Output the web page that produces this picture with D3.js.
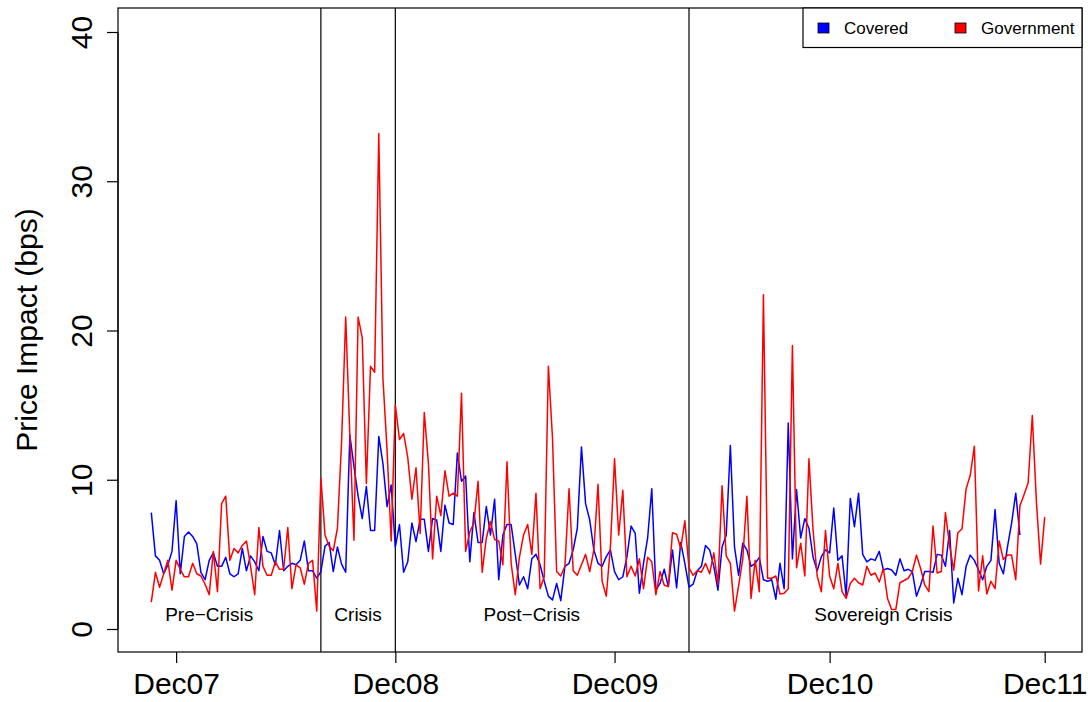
<!DOCTYPE html>
<html>
<head>
<meta charset="utf-8">
<script src="https://cdn.jsdelivr.net/npm/d3@7"></script>
<style>
  body { margin: 0; background: #fff; }
  svg { display: block; font-family: "Liberation Sans", Arial, sans-serif; }
</style>
</head>
<body>
<div id="chart"></div>
<script>
// weekly price impact (bps), week index 0..216
var covered = [
  7.8, 4.9, 4.6, 3.7, 4.3, 5.2, 8.6, 3.7, 6.2, 6.5,
  6.2, 5.7, 3.8, 3.3, 4.6, 5.1, 4.2, 4.2, 4.8, 3.7,
  3.5, 3.7, 5.4, 3.9, 4.9, 4.5, 3.9, 6.2, 5.2, 5.1,
  4.3, 6.6, 3.9, 4.2, 4.4, 4.3, 4.6, 5.9, 3.9, 3.9,
  3.4, 3.85, 5.55, 5.8, 3.85, 5.5, 4.35, 3.8, 13.0, 10.9,
  8.9, 7.4, 9.55, 6.6, 6.6, 12.9, 11.1, 8.2, 9.65, 5.5,
  7.0, 3.8, 4.5, 7.1, 5.85, 7.35, 7.35, 5.2, 7.4, 7.3,
  5.2, 8.3, 7.1, 7.0, 11.8, 9.9, 10.25, 4.5, 7.8, 5.8,
  5.8, 8.2, 6.3, 8.7, 3.3, 6.3, 7.0, 7.0, 5.0, 2.95,
  3.5, 2.7, 4.7, 5.0, 4.3, 3.2, 2.2, 1.95, 3.05, 1.9,
  4.2, 4.4, 5.3, 6.75, 12.2, 8.4, 7.3, 5.3, 4.4, 4.2,
  4.85, 5.3, 3.85, 3.3, 3.5, 4.85, 6.9, 6.4, 2.4, 4.4,
  6.1, 9.4, 2.6, 3.05, 4.0, 2.85, 5.3, 2.75, 5.8, 4.4,
  2.8, 3.0, 3.9, 4.2, 5.6, 5.3, 4.2, 2.6, 5.5, 6.3,
  12.3, 5.5, 3.6, 5.75, 5.3, 4.2, 4.4, 4.8, 3.3, 3.2,
  3.3, 2.0, 4.4, 2.7, 13.8, 4.7, 9.35, 6.1, 7.4, 6.75,
  4.8, 3.9, 4.85, 5.3, 5.1, 8.1, 4.6, 4.9, 2.2, 8.75,
  6.85, 9.1, 5.0, 4.5, 4.7, 4.6, 5.2, 3.95, 4.05, 3.95,
  3.6, 4.7, 3.9, 4.0, 3.85, 2.2, 2.95, 3.85, 3.85, 3.8,
  5.0, 4.95, 4.2, 6.6, 1.75, 3.4, 2.3, 4.2, 4.95, 4.6,
  3.95, 3.3, 4.2, 4.6, 8.0, 4.4, 3.7, 5.5, 7.1, 9.1, 6.3,
  null, null, null, null, null, null
];
var government = [
  1.8, 3.8, 2.8, 3.7, 4.6, 2.6, 4.6, 4.0, 3.5, 3.5,
  4.4, 3.7, 3.55, 3.0, 2.3, 5.2, 2.5, 8.4, 8.9, 4.6,
  5.4, 5.1, 5.6, 5.9, 4.2, 2.3, 6.8, 4.2, 3.6, 3.6,
  4.5, 4.0, 4.0, 6.8, 2.7, 4.3, 4.1, 3.0, 4.4, 4.6,
  1.2, 10.1, 6.3, 5.55, 5.25, 6.75, 12.5, 20.9, 13.0, 5.95,
  20.9, 19.5, 9.75, 17.6, 17.2, 33.2, 16.8, 12.0, 5.9, 15.0,
  12.7, 13.1, 11.5, 8.7, 10.8, 6.4, 14.5, 11.1, 4.7, 8.9,
  7.6, 10.6, 8.9, 9.1, 8.9, 15.8, 5.2, 6.5, 7.1, 9.9,
  3.8, 6.1, 7.2, 6.0, 5.9, 4.3, 11.2, 4.4, 2.3, 4.8,
  6.3, 7.0, 5.0, 9.1, 2.7, 3.5, 17.6, 12.8, 3.85, 3.55,
  4.2, 9.4, 3.9, 3.6, 4.3, 5.0, 3.85, 5.3, 9.7, 3.2,
  2.2, 5.5, 11.4, 6.3, 9.3, 3.5, 4.2, 3.55, 4.7, 2.7,
  4.8, 4.5, 2.3, 3.85, 2.95, 2.85, 6.45, 6.35, 5.4, 7.25,
  4.1, 3.6, 3.9, 3.8, 4.4, 3.7, 5.1, 3.0, 9.6, 4.9,
  4.4, 1.2, 2.9, 4.7, 8.9, 2.05, 4.6, 2.5, 22.4, 3.4,
  3.4, 3.55, 2.35, 2.4, 2.7, 19.0, 4.1, 5.75, 3.55, 11.4,
  6.6, 3.55, 2.5, 6.6, 3.55, 2.7, 4.4, 2.5, 2.05, 3.05,
  3.4, 3.1, 2.95, 4.2, 3.6, 3.75, 3.15, 4.05, 2.05, 1.3,
  1.3, 3.1, 3.25, 3.4, 3.85, 4.95, 4.05, 2.95, 2.5, 6.9,
  3.75, 3.85, 7.8, 5.6, 3.95, 6.45, 6.7, 9.4, 10.3, 12.25,
  2.55, 4.9, 2.35, 3.2, 2.7, 5.9, 4.65, 4.95, 4.95, 3.3,
  8.25, 9.0, 9.8, 14.3, 8.5, 4.35, 7.5
];
var xTickIdx = [6, 59, 112, 164, 216];
var xTickLabels = ["Dec07", "Dec08", "Dec09", "Dec10", "Dec11"];
var yTicks = [0, 10, 20, 30, 40];
var breakIdx = [41, 59, 130];
var periodIdx = [14, 50, 92, 177];
var periodNames = ["Pre\u2212Crisis", "Crisis", "Post\u2212Crisis", "Sovereign Crisis"];
var seriesNames = ["Covered", "Government"];
var seriesColors = ["#0000ff", "#ff0000"];

var width = 1088, height = 702;
var box = {left: 118, right: 1082, top: 8, bottom: 652};

var svg = d3.select("#chart").append("svg")
    .attr("width", width)
    .attr("height", height);

var x = d3.scaleLinear().domain([0, 216]).range([151.3, 1044.7]);
var y = d3.scaleLinear().domain([0, 40]).range([629, 32]);

// period separators
svg.append("g").selectAll("line")
    .data(breakIdx)
    .enter().append("line")
    .attr("x1", d => x(d)).attr("x2", d => x(d))
    .attr("y1", box.top).attr("y2", box.bottom)
    .attr("stroke", "#000").attr("stroke-width", 1.2);

svg.append("g").selectAll("text")
    .data(periodNames)
    .enter().append("text")
    .attr("x", (d, i) => x(periodIdx[i]))
    .attr("y", 621)
    .attr("text-anchor", "middle")
    .attr("font-size", 19)
    .text(d => d);

// series
var line = d3.line()
    .defined(d => d != null)
    .x((d, i) => x(i))
    .y(d => y(d));
[covered, government].forEach(function(s, k) {
    svg.append("path")
        .datum(s)
        .attr("fill", "none")
        .attr("stroke", seriesColors[k])
        .attr("stroke-width", 1.5)
        .attr("stroke-linejoin", "round")
        .attr("d", line);
});

// plot frame
svg.append("rect")
    .attr("x", box.left).attr("y", box.top)
    .attr("width", box.right - box.left).attr("height", box.bottom - box.top)
    .attr("fill", "none").attr("stroke", "#000").attr("stroke-width", 1.2);

// axes
var xAxis = svg.append("g")
    .attr("transform", `translate(0,${box.bottom})`)
    .call(d3.axisBottom(x).tickValues(xTickIdx)
        .tickFormat((d, i) => xTickLabels[i]).tickSize(11).tickPadding(10));
xAxis.select(".domain").remove();
xAxis.selectAll("line").attr("stroke-width", 1.2);
xAxis.selectAll("text").attr("font-size", 30).attr("font-family", null).attr("fill", "#000");

var yAxis = svg.append("g")
    .attr("transform", `translate(${box.left},0)`)
    .call(d3.axisLeft(y).tickValues(yTicks).tickSize(11));
yAxis.select(".domain").attr("d", `M0,${y(0)}V${y(40)}`).attr("stroke-width", 1.2);
yAxis.selectAll("line").attr("stroke-width", 1.2);
yAxis.selectAll("text")
    .attr("font-size", 30).attr("font-family", null).attr("fill", "#000")
    .attr("x", null).attr("dy", null)
    .attr("text-anchor", "middle")
    .attr("transform", "translate(-26,0) rotate(-90)");

svg.append("text")
    .attr("transform", `translate(37,${(box.top + box.bottom) / 2}) rotate(-90)`)
    .attr("text-anchor", "middle")
    .attr("font-size", 30)
    .text("Price Impact (bps)");

// legend
var legend = svg.append("g");
legend.append("rect")
    .attr("x", 803).attr("y", box.top)
    .attr("width", box.right - 803).attr("height", 39.5)
    .attr("fill", "#fff").attr("stroke", "#000").attr("stroke-width", 1.2);
var legendX = [818, 955];
var item = legend.selectAll("g.item")
    .data(seriesNames)
    .enter().append("g")
    .attr("class", "item")
    .attr("transform", (d, i) => `translate(${legendX[i]},23)`);
item.append("rect")
    .attr("width", 11).attr("height", 10)
    .attr("fill", (d, i) => seriesColors[i])
    .attr("stroke", "#000").attr("stroke-width", 0.8);
item.append("text")
    .attr("x", 26).attr("y", 11)
    .attr("font-size", 17)
    .text(d => d);
</script>
</body>
</html>
